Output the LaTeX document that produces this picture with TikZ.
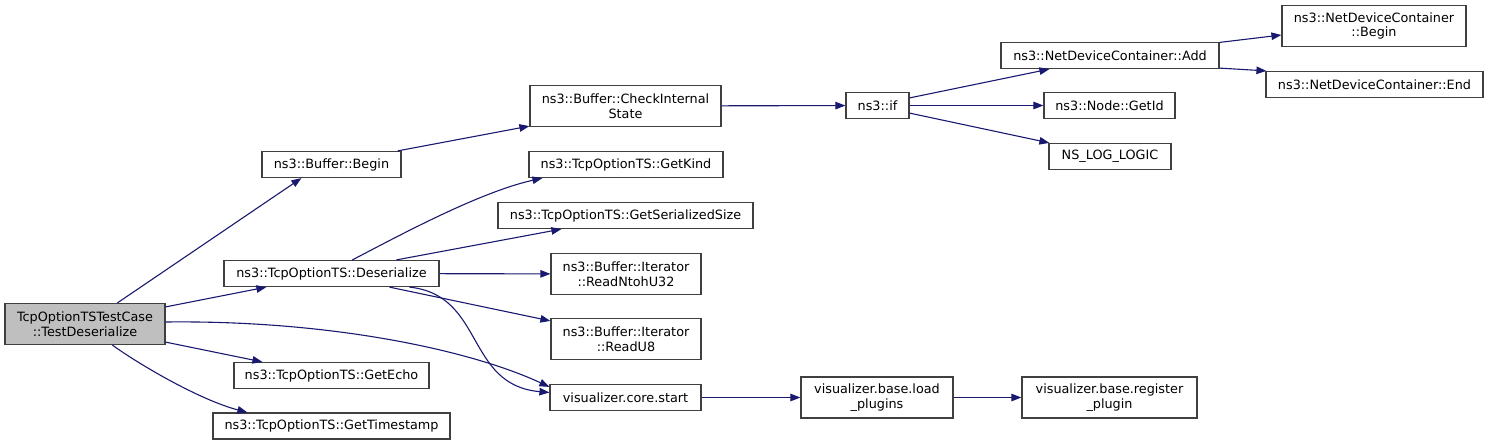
\documentclass[tikz,border=0pt]{standalone}
\usepackage{fontspec}
\setmainfont{DejaVu Sans}
\usetikzlibrary{arrows.meta,calc}
\definecolor{edgeblue}{HTML}{191970}
\definecolor{nodeline}{HTML}{404040}
\definecolor{rootfill}{HTML}{BFBFBF}
\tikzset{
  box/.style={draw=nodeline, line width=1.2pt, fill=white, inner sep=0pt, align=center,
    font=\fontsize{12.8}{14.7}\selectfont, minimum height=26pt},
  box2/.style={box, minimum height=41pt},
  edge/.style={draw=edgeblue, line width=1.1pt, -{Triangle[length=10pt,width=7.5pt]}},
}
\begin{document}
\begin{tikzpicture}[x=1pt,y=-1pt]
\useasboundingbox (0,0) rectangle (1488,445);
% nodes
\node[box2, fill=rootfill, minimum width=160pt] (root) at (85,324) {TcpOptionTSTestCase\\::TestDeserialize};
\node[box, minimum width=139pt] (bbegin) at (331.5,164.5) {ns3::Buffer::Begin};
\node[box, minimum width=215pt] (deser) at (331.5,273.5) {ns3::TcpOptionTS::Deserialize};
\node[box, minimum width=195pt] (echo) at (331.5,375.5) {ns3::TcpOptionTS::GetEcho};
\node[box, minimum width=237pt] (tstamp) at (331.5,426) {ns3::TcpOptionTS::GetTimestamp};
\node[box2, minimum width=191pt] (check) at (625.5,106) {ns3::Buffer::CheckInternal\\State};
\node[box, minimum width=194pt] (kind) at (626,164.5) {ns3::TcpOptionTS::GetKind};
\node[box, minimum width=255pt] (sersize) at (625.5,215.5) {ns3::TcpOptionTS::GetSerializedSize};
\node[box2, minimum width=150pt] (ntoh) at (626,274) {ns3::Buffer::Iterator\\::ReadNtohU32};
\node[box2, minimum width=150pt] (readu8) at (626,339) {ns3::Buffer::Iterator\\::ReadU8};
\node[box, minimum width=151pt] (vstart) at (625.5,397.5) {visualizer.core.start};
\node[box, minimum width=63pt] (nsif) at (877.5,105.5) {ns3::if};
\node[box, minimum width=218pt] (add) at (1110,55.5) {ns3::NetDeviceContainer::Add};
\node[box, minimum width=131pt] (getid) at (1109.5,105.5) {ns3::Node::GetId};
\node[box, minimum width=122pt] (nslog) at (1110,156.5) {NS\_LOG\_LOGIC};
\node[box2, minimum width=184pt] (ndcbegin) at (1374,26) {ns3::NetDeviceContainer\\::Begin};
\node[box, minimum width=217pt] (ndcend) at (1374.5,84.5) {ns3::NetDeviceContainer::End};
\node[box2, minimum width=152pt] (loadp) at (877,397.5) {visualizer.base.load\\\_plugins};
\node[box2, minimum width=175pt] (regp) at (1109.5,397.5) {visualizer.base.register\\\_plugin};
% edges
\draw[edge] ($(root.north west)+(113,0)$) -- ($(bbegin.south west)+(40,0)$);
\draw[edge] ($(root.north east)+(0,4)$) -- ($(deser.south west)+(43,0)$);
\draw[edge] ($(root.east)+(0,-2)$) .. controls (330,320) and (470,350) .. ($(vstart.north west)+(0,3)$);
\draw[edge] ($(root.south east)+(0,-3)$) -- ($(echo.north west)+(29,0)$);
\draw[edge] ($(root.south west)+(108,0)$) .. controls (140,365) and (200,400) .. ($(tstamp.north west)+(35,0)$);
\draw[edge] ($(bbegin.north east)+(-4,0)$) -- ($(check.south west)+(0,-1)$);
\draw[edge] (check) -- (nsif);
\draw[edge] ($(deser.north west)+(129,0)$) .. controls (400,235) and (480,192) .. ($(kind.south west)+(14,0)$);
\draw[edge] ($(deser.north west)+(173,0)$) -- ($(sersize.south west)+(64,0)$);
\draw[edge] (deser) -- (ntoh);
\draw[edge] ($(deser.south west)+(166,0)$) -- ($(readu8.north west)+(0,3)$);
\draw[edge] ($(deser.south west)+(186,0)$) .. controls (485,295) and (465,385) .. ($(vstart.west)+(0,-5)$);
\draw[edge] (vstart) -- (loadp);
\draw[edge] (loadp) -- (regp);
\draw[edge] ($(nsif.north east)+(0,6)$) -- ($(add.south west)+(49,0)$);
\draw[edge] (nsif) -- (getid);
\draw[edge] ($(nsif.south east)+(0,-6)$) -- ($(nslog.north west)+(1,0)$);
\draw[edge] ($(add.north east)+(0,0.5)$) -- ($(ndcbegin.west)+(0,9)$);
\draw[edge] ($(add.south east)+(0,-1)$) -- ($(ndcend.north west)+(1,0)$);
\end{tikzpicture}
\end{document}
